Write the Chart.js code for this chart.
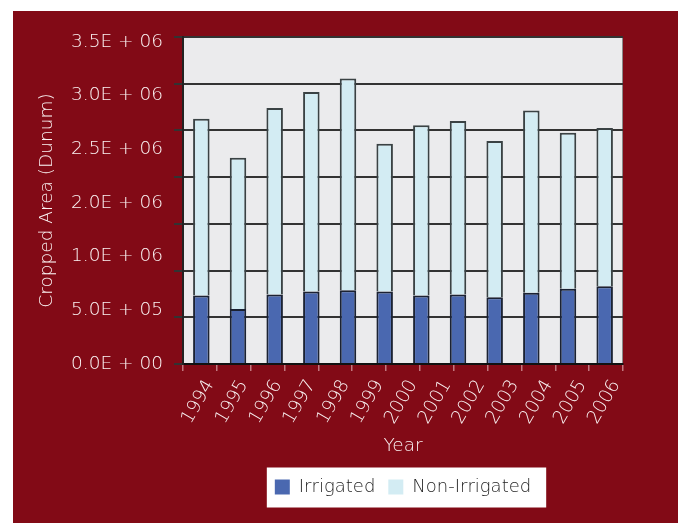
<!DOCTYPE html>
<html>
<head>
<meta charset="utf-8">
<script src="https://cdn.jsdelivr.net/npm/chart.js@4/dist/chart.umd.min.js"></script>
<style>
  html, body { margin: 0; padding: 0; background: #ffffff; }
  #wrap { width: 678px; height: 523px; }
</style>
</head>
<body>
<div id="wrap"><canvas id="c" width="678" height="523"></canvas></div>
<script>
// ---- data ----
const categories = ['1994','1995','1996','1997','1998','1999','2000','2001','2002','2003','2004','2005'];
const irrigated = [733000, 590000, 744000, 776000, 790000, 776000, 733000, 744000, 715000, 762000, 805000, 833000];
const nonIrrigated = [1893000, 1617000, 1997000, 2134000, 2266000, 1582000, 1822000, 1857000, 1672000, 1950000, 1671000, 1693000];
const xTickLabels = ['1994','1995','1996','1997','1998','1999','2000','2001','2002','2003','2004','2005','2006'];
const yTickLabels = ['0.0E + 00','5.0E + 05','1.0E + 06','2.0E + 06','2.5E + 06','3.0E + 06','3.5E + 06'];

const FONT = 'DejaVu Sans';
const WEIGHT = 200;
const TXT = '#fbf3f3';
const RED = '#820a16';

const backdrop = {
  id: 'backdrop',
  beforeDraw(chart) {
    const ctx = chart.ctx;
    const {left, top, right, bottom} = chart.chartArea;
    ctx.save();
    ctx.fillStyle = '#ffffff';
    ctx.fillRect(0, 0, chart.width, chart.height);
    ctx.fillStyle = RED;
    ctx.fillRect(13, 11, chart.width - 13, chart.height - 11);
    ctx.fillStyle = '#ebebed';
    ctx.fillRect(left, top, right - left, bottom - top);
    ctx.strokeStyle = '#8a8a8a';
    ctx.lineWidth = 1;
    ctx.beginPath();
    ctx.moveTo(right - 0.5, top);
    ctx.lineTo(right - 0.5, bottom);
    ctx.stroke();
    const hb = chart.legend && chart.legend.legendHitBoxes;
    if (hb && hb.length) {
      const first = hb[0], last = hb[hb.length - 1];
      const cy = first.top + first.height / 2;
      const l = first.left - 8;
      const r = last.left + last.width + 15;
      ctx.fillStyle = '#ffffff';
      ctx.fillRect(l, cy - 19.5, r - l, 40);
    }
    ctx.restore();
  }
};

new Chart(document.getElementById('c'), {
  type: 'bar',
  data: {
    labels: categories,
    datasets: [
      {
        label: 'Irrigated',
        data: irrigated,
        backgroundColor: '#4a68b0',
        borderColor: '#1b2233',
        borderWidth: 2,
        xAxisID: 'x',
        yAxisID: 'y'
      },
      {
        label: 'Non-Irrigated',
        data: nonIrrigated,
        backgroundColor: '#d3ecf3',
        borderColor: '#3a4244',
        borderWidth: 2,
        xAxisID: 'x',
        yAxisID: 'y'
      }
    ]
  },
  options: {
    responsive: false,
    animation: false,
    devicePixelRatio: 1,
    layout: { padding: { left: 32, top: 37, right: 55, bottom: 17 } },
    datasets: { bar: { categoryPercentage: 1.0, barPercentage: 0.45 } },
    plugins: {
      tooltip: { enabled: false },
      legend: {
        position: 'bottom',
        fullSize: false,
        labels: {
          boxWidth: 15,
          boxHeight: 15,
          padding: 13,
          color: '#1e1e1e',
          font: { family: FONT, size: 18, weight: WEIGHT },
          generateLabels: (chart) =>
            Chart.defaults.plugins.legend.labels.generateLabels(chart).map(l => ({ ...l, lineWidth: 0 }))
        }
      }
    },
    scales: {
      x: {
        type: 'category',
        display: false,
        stacked: true
      },
      x2: {
        type: 'linear',
        position: 'bottom',
        min: 0,
        max: xTickLabels.length - 1,
        afterFit: (s) => { s.height = 101; },
        ticks: {
          stepSize: 1,
          autoSkip: false,
          minRotation: 60,
          maxRotation: 60,
          labelOffset: 10,
          padding: 5,
          color: TXT,
          font: { family: FONT, size: 18.5, weight: WEIGHT },
          callback: (v) => xTickLabels[v] ?? ''
        },
        grid: {
          drawOnChartArea: false,
          drawTicks: true,
          tickLength: 7,
          color: '#c27880',
          lineWidth: 1.5
        },
        border: { display: true, color: '#111111', width: 2 },
        title: {
          display: true,
          text: 'Year',
          color: TXT,
          font: { family: FONT, size: 18.5, weight: WEIGHT },
          padding: { top: 4, bottom: 8 }
        }
      },
      y: {
        type: 'linear',
        position: 'left',
        stacked: true,
        min: 0,
        max: 3500000,
        weight: 0,
        afterFit: (s) => { s.width = 9; },
        ticks: { display: false, stepSize: 500000 },
        grid: { color: '#333333', lineWidth: 2, tickLength: 9, drawTicks: true },
        border: { display: true, color: '#222222', width: 2 }
      },
      y2: {
        type: 'linear',
        position: 'left',
        min: 0,
        max: 6.09,
        weight: 1,
        afterFit: (s) => { s.width = 142; },
        ticks: {
          stepSize: 1,
          includeBounds: false,
          padding: 11,
          color: TXT,
          font: { family: FONT, size: 18.5, weight: WEIGHT },
          callback: (v) => yTickLabels[v] ?? ''
        },
        grid: { display: false, drawTicks: false },
        border: { display: false },
        title: {
          display: true,
          text: 'Cropped Area (Dunum)',
          color: TXT,
          font: { family: FONT, size: 18.5, weight: WEIGHT },
          padding: { top: 4, bottom: 4 }
        }
      }
    }
  },
  plugins: [backdrop]
});
</script>
</body>
</html>
